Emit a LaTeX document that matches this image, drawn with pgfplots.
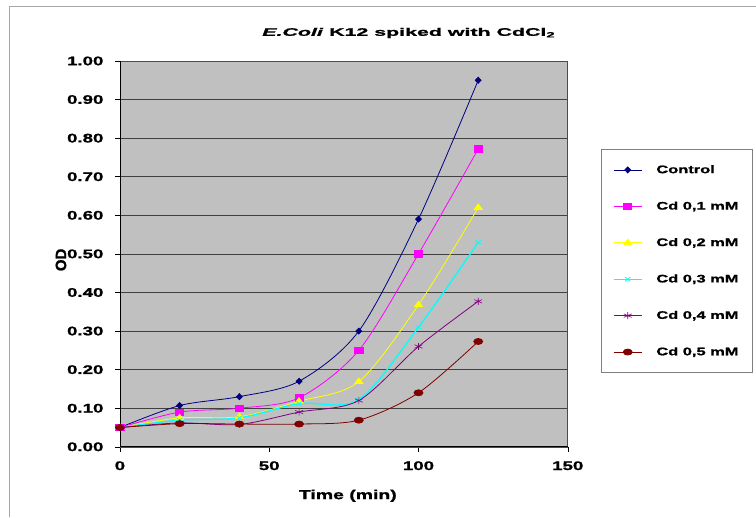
\documentclass[border=0pt]{standalone}
\usepackage{fontspec}
\setmainfont{Liberation Sans}[FakeStretch=1.5, BoldFeatures={FakeStretch=1.5, FakeBold=1.2}, BoldItalicFeatures={FakeStretch=1.5, FakeBold=1.2}]
\newfontfamily\plainfont{Liberation Sans}[BoldFeatures={FakeBold=1.5}]
\usepackage{pgfplots}
\pgfplotsset{compat=1.18}
\definecolor{cnavy}{HTML}{000080}
\definecolor{cmag}{HTML}{FF00FF}
\definecolor{cyel}{HTML}{FFFF00}
\definecolor{ccyan}{HTML}{00FFFF}
\definecolor{cpurp}{HTML}{800080}
\definecolor{cdred}{HTML}{800000}
\definecolor{plotbg}{HTML}{C0C0C0}
\begin{document}
\begin{tikzpicture}[x=1bp,y=1bp]
\path (0,0) rectangle (756,517);
\draw[gray!70, line width=0.6pt] (9,0) -- (9,511) -- (756,511);
\begin{axis}[
  at={(120bp,70bp)}, anchor=south west,
  scale only axis, width=448bp, height=386bp,
  xmin=0, xmax=150, ymin=0, ymax=1,
  xtick={0,50,100,150},
  ytick={0,0.1,...,1.01},
  xtick pos=bottom, ytick pos=left,
  tick align=outside, major tick length=5bp,
  tick style={black, line width=0.5pt},
  minor tick num=0,
  axis background/.style={fill=plotbg},
  axis line style={draw=gray!60!black, line width=0.6pt},
  ymajorgrids, grid style={black!75, line width=0.5pt},
  /pgf/number format/assume math mode=true,
  yticklabel style={/pgf/number format/fixed, /pgf/number format/fixed zerofill, /pgf/number format/precision=2},
  ticklabel style={font=\bfseries\fontsize{12.5}{14}\selectfont},
  yticklabel style={xshift=-8bp},
  xticklabel style={yshift=-6bp},
  scaled y ticks=false,
  legend cell align=left,
  legend style={at={(1.0737,0.772)}, anchor=north west, draw=gray, fill=white,
    font=\bfseries\fontsize{11}{13}\selectfont, row sep=23bp,
    inner xsep=12bp, inner ysep=14bp, line width=0.6pt,
    nodes={inner sep=2bp},
    /tikz/every odd column/.append style={column sep=12bp}},
  legend image code/.code={\draw[mark repeat=2,mark phase=2,#1] plot coordinates {(0bp,0bp)(14bp,0bp)(28bp,0bp)};},
  every axis plot/.append style={line width=0.8pt, smooth, tension=0.5},
]
\draw[black, line width=0.7pt] (rel axis cs:0,1) -- (rel axis cs:0,0) -- (rel axis cs:1,0);
\addplot[cnavy, mark=diamond*, mark options={solid, xscale=1.3, mark size=3}] coordinates {(0,0.05)(20,0.107)(40,0.13)(60,0.17)(80,0.30)(100,0.59)(120,0.95)};
\addlegendentry{Control}
\addplot[cmag, mark=square*, mark options={solid, xscale=1.3, mark size=3.2}] coordinates {(0,0.05)(20,0.09)(40,0.10)(60,0.127)(80,0.25)(100,0.50)(120,0.772)};
\addlegendentry{Cd 0,1 mM}
\addplot[cyel, mark=triangle*, mark options={solid, xscale=1.3, mark size=3.6}] coordinates {(0,0.05)(20,0.075)(40,0.078)(60,0.118)(80,0.169)(100,0.368)(120,0.62)};
\addlegendentry{Cd 0,2 mM}
\addplot[ccyan, line width=1.3pt, mark=x, mark options={solid, xscale=1.3, mark size=3, line width=0.8pt}] coordinates {(0,0.05)(20,0.069)(40,0.075)(60,0.112)(80,0.122)(100,0.31)(120,0.53)};
\addlegendentry{Cd 0,3 mM}
\addplot[cpurp, mark=asterisk, mark options={solid, xscale=1.3, mark size=3.5, line width=0.6pt}] coordinates {(0,0.05)(20,0.062)(40,0.058)(60,0.09)(80,0.12)(100,0.26)(120,0.377)};
\addlegendentry{Cd 0,4 mM}
\addplot[cdred, mark=*, mark options={solid, xscale=1.5, mark size=3}] coordinates {(0,0.05)(20,0.06)(40,0.059)(60,0.059)(80,0.069)(100,0.14)(120,0.273)};
\addlegendentry{Cd 0,5 mM}
\end{axis}
\node[font=\bfseries\fontsize{11}{13}\selectfont, xscale=1.3] at (409,484) {\textit{E.Coli} K12 spiked with CdCl\textsubscript{2}};
\node[font=\bfseries\fontsize{13}{15}\selectfont] at (348,21) {Time (min)};
\node[font=\plainfont\bfseries\fontsize{15}{17}\selectfont, rotate=90] at (61,257) {OD};
\end{tikzpicture}
\end{document}
